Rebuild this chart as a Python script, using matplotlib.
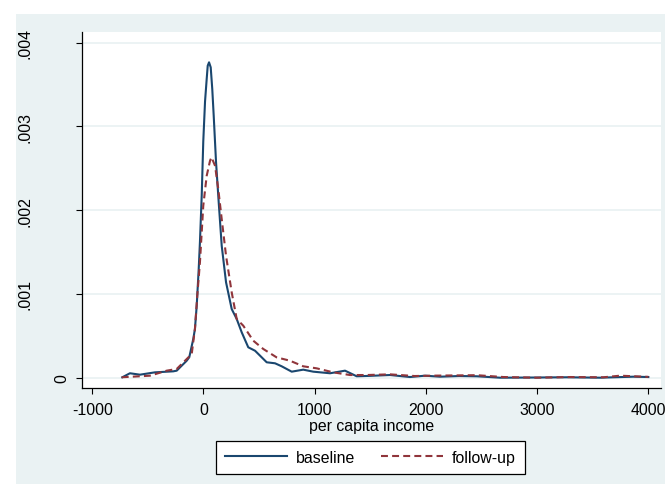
import matplotlib
matplotlib.use("Agg")
import matplotlib.pyplot as plt
from matplotlib.patches import Rectangle

plt.rcParams["font.family"] = ["Liberation Sans", "DejaVu Sans"]
plt.rcParams["lines.scale_dashes"] = False

# kernel density estimates
base_x = [-731, -662, -572, -437, -272, -241, -151, -128, -92, -77, -61, -43,
          -32, -16, -2, 14, 29, 38, 50, 65, 79, 92, 113, 137, 164, 203, 254,
          299, 344, 403, 464, 509, 569, 644, 704, 794, 898, 988, 1139, 1274,
          1379, 1500, 1679, 1859, 1994, 2129, 2300, 2459, 2669, 2969, 3269,
          3569, 3869, 4004]
base_y = [0.000005, 0.000053, 0.000036, 0.000064, 0.000076, 0.000084, 0.000203,
          0.000244, 0.000462, 0.000581, 0.000860, 0.001298, 0.001617, 0.002173,
          0.002820, 0.003300, 0.003570, 0.003725, 0.003766, 0.003706, 0.003447,
          0.003128, 0.002572, 0.002094, 0.001576, 0.001139, 0.000820, 0.000701,
          0.000542, 0.000363, 0.000322, 0.000263, 0.000184, 0.000172, 0.000136,
          0.000072, 0.000096, 0.000072, 0.000053, 0.000084, 0.000017, 0.000022,
          0.000032, 0.000008, 0.000024, 0.000012, 0.000020, 0.000017, 0.000000,
          0.000002, 0.000005, 0.000000, 0.000012, 0.000008]

follow_x = [-736, -482, -331, -241, -151, -106, -77, -56, -32, -2, 29, 59, 72,
            104, 133, 164, 203, 254, 299, 358, 448, 538, 658, 778, 898, 1018,
            1168, 1318, 1468, 1679, 1900, 2100, 2459, 2700, 3000, 3300, 3600,
            3749, 4004]
follow_y = [0.000005, 0.000024, 0.000084, 0.000104, 0.000223, 0.000283,
            0.000581, 0.000979, 0.001377, 0.002053, 0.002412, 0.002591,
            0.002632, 0.002531, 0.002253, 0.001895, 0.001456, 0.001019,
            0.000701, 0.000621, 0.000442, 0.000343, 0.000243, 0.000203,
            0.000136, 0.000112, 0.000064, 0.000032, 0.000032, 0.000040,
            0.000020, 0.000025, 0.000030, 0.000008, 0.000000, 0.000008,
            0.000005, 0.000024, 0.000010]

x_ticks = [-1000, 0, 1000, 2000, 3000, 4000]
y_ticks = [0, 0.001, 0.002, 0.003, 0.004]
y_labels = ["0", ".001", ".002", ".003", ".004"]

navy = "#1a476f"
maroon = "#90353b"
bg = "#eaf2f3"
fs = 11.4

fig = plt.figure(figsize=(6.65, 4.85), dpi=100)
fig.patch.set_facecolor("white")
fig.add_artist(Rectangle((16 / 665, 0), 1, 470 / 485, transform=fig.transFigure,
                         facecolor=bg, edgecolor="none", zorder=-5))

ax = fig.add_axes([81.5 / 665, 96 / 485, 579.5 / 665, 356 / 485])
ax.set_facecolor("white")
ax.set_zorder(2)

for v in y_ticks:
    ax.axhline(v, color=bg, lw=1.3, zorder=1)

ax.plot(base_x, base_y, color=navy, lw=1.5, zorder=3, label="baseline")
ax.plot(follow_x, follow_y, color=maroon, lw=1.5, linestyle=(0, (5, 3)),
        zorder=3, label="follow-up")

ax.set_xlim(-1098, 4118)
ax.set_ylim(-0.000123, 0.004128)

ax.set_xticks(x_ticks)
ax.set_xticklabels([str(t) for t in x_ticks], fontsize=fs)
ax.set_yticks(y_ticks)
ax.set_yticklabels([])
ax.tick_params(axis="both", direction="out", length=4, width=0.8, color="black")
ax.tick_params(axis="x", pad=6)

# Stata style vertical y labels
label_x = {"0": -0.0336}
for v, lab in zip(y_ticks, y_labels):
    ax.text(label_x.get(lab, -0.0975), v, lab, rotation=90, ha="center",
            va="center", fontsize=fs, transform=ax.get_yaxis_transform(),
            clip_on=False)

for side in ["top", "right"]:
    ax.spines[side].set_visible(False)
for side in ["left", "bottom"]:
    ax.spines[side].set_linewidth(0.9)
    ax.spines[side].set_color("black")

ax.set_xlabel("per capita income", fontsize=fs, labelpad=1)

leg = fig.legend(loc="center", bbox_to_anchor=(370.5 / 665, 1 - 458.5 / 485),
                 ncol=2, fontsize=fs, frameon=True, fancybox=False,
                 edgecolor="black", facecolor="white", framealpha=1,
                 handlelength=3.9, handletextpad=0.6,
                 columnspacing=1.6, borderpad=0.55)
leg.get_frame().set_linewidth(0.9)
leg.set_zorder(3)

plt.savefig("out.png", dpi=100)
